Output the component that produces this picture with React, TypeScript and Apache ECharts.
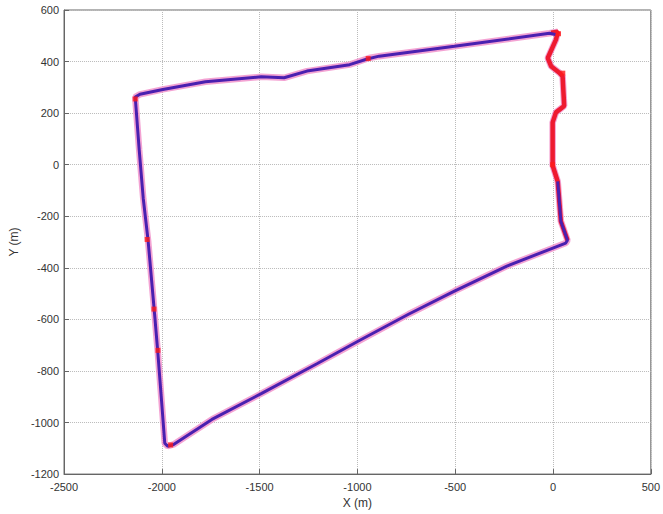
import React, { useEffect, useRef } from "react";
import * as echarts from "echarts";

// Estimated trajectory (drawn as pink halo, full loop)
const estX = [25, 15, -27, -10, 32, 49, 57, 15, -2, -2, -2, 24, 40, 74,
  65, -236, -504, -739, -990, -1207, -1492, -1744, -1940, -1970,
  -1985, -2003, -2020, -2037, -2070, -2095, -2116, -2136,
  -2112, -1995, -1777, -1492, -1375, -1258, -1040, -940, -889, -504, -18, 25];
const estY = [516, 485, 414, 382, 357, 343, 228, 203, 164, 80, -3, -65, -219, -293,
  -304, -393, -490, -580, -682, -772, -888, -988, -1085, -1092,
  -1080, -900, -733, -580, -296, -131, 60, 262,
  273, 292, 322, 341, 337, 363, 388, 414, 421, 459, 510, 516];

// Section of the right side where the red trace dominates
const redX = [-10, 25, 15, -27, -10, 32, 49, 57, 15, -2, -2, -2, 24, 40, 74];
const redY = [512, 516, 485, 414, 382, 357, 343, 228, 203, 164, 80, -3, -65, -219, -293];

// Reference trajectory (blue, thin)
const refX = [24, 40, 74, 65, -236, -504, -739, -990, -1207, -1492, -1744, -1940, -1970,
  -1985, -2003, -2020, -2037, -2070, -2095, -2116, -2136,
  -2112, -1995, -1777, -1492, -1375, -1258, -1040, -950, -889, -504, -18, 12];
const refY = [-65, -219, -293, -304, -393, -490, -580, -682, -772, -888, -988, -1085, -1092,
  -1080, -900, -733, -580, -296, -131, 60, 262,
  273, 292, 322, 341, 337, 363, 388, 410, 421, 459, 510, 505];

// Red highlighted spots
const markX = [28, 50, -2, -945, -2136, -2075, -2040, -2020, -1955];
const markY = [508, 355, 0, 412, 255, -290, -560, -720, -1087];

const xTicks = { min: -2500, max: 500, interval: 500 };
const yTicks = { min: -1200, max: 600, interval: 200 };

export default function App() {
  const ref = useRef<HTMLDivElement>(null);
  useEffect(() => {
    if (!ref.current) return;
    document.body.style.margin = "0";
    const chart = echarts.init(ref.current, undefined, { renderer: "svg" });
    const font = "Liberation Sans, Arial, sans-serif";
    const est = estX.map((x, i) => [x, estY[i]]);
    const red = redX.map((x, i) => [x, redY[i]]);
    const tru = refX.map((x, i) => [x, refY[i]]);
    const marks = markX.map((x, i) => [x, markY[i]]);
    const fmt = (v: number) => String(v);
    chart.setOption({
      animation: false,
      backgroundColor: "#fff",
      grid: {
        left: 61, right: 6, top: 10, bottom: 36,
        show: true, borderColor: "#666", borderWidth: 1,
      },
      xAxis: {
        type: "value", ...xTicks,
        name: "X (m)", nameLocation: "middle", nameGap: 22,
        nameTextStyle: { fontFamily: font, fontSize: 12, color: "#333" },
        axisLine: { show: true, onZero: false, lineStyle: { color: "#666" } },
        axisTick: { show: true, inside: true, length: 5, lineStyle: { color: "#666" } },
        axisLabel: { fontFamily: font, fontSize: 11, color: "#333", margin: 7, formatter: fmt },
        splitLine: { show: true, lineStyle: { type: "dotted", color: "#bbb" } },
      },
      yAxis: {
        type: "value", ...yTicks,
        name: "Y (m)", nameLocation: "middle", nameGap: 41, nameRotate: 90,
        nameTextStyle: { fontFamily: font, fontSize: 12, color: "#333" },
        axisLine: { show: true, onZero: false, lineStyle: { color: "#666" } },
        axisTick: { show: true, inside: true, length: 5, lineStyle: { color: "#666" } },
        axisLabel: { fontFamily: font, fontSize: 11, color: "#333", margin: 5, formatter: fmt },
        splitLine: { show: true, lineStyle: { type: "dotted", color: "#bbb" } },
      },
      series: [
        {
          type: "line", data: est, symbol: "none",
          lineStyle: { color: "rgba(240,140,200,0.8)", width: 6.5 },
          z: 2,
        },
        {
          type: "line", data: red, symbol: "none",
          lineStyle: { color: "#ee1a30", width: 4.5 },
          z: 3,
        },
        {
          type: "line", data: tru, symbol: "none",
          lineStyle: { color: "#4a20b0", width: 3 },
          z: 4,
        },
        {
          type: "scatter", data: marks, symbol: "rect", symbolSize: 5,
          itemStyle: { color: "#ff1a1a" },
          z: 5,
        },
      ],
    });
    return () => chart.dispose();
  }, []);
  return (
    <div
      ref={ref}
      style={{ position: "absolute", left: 0, top: 0, width: 663, height: 514 }}
    />
  );
}
